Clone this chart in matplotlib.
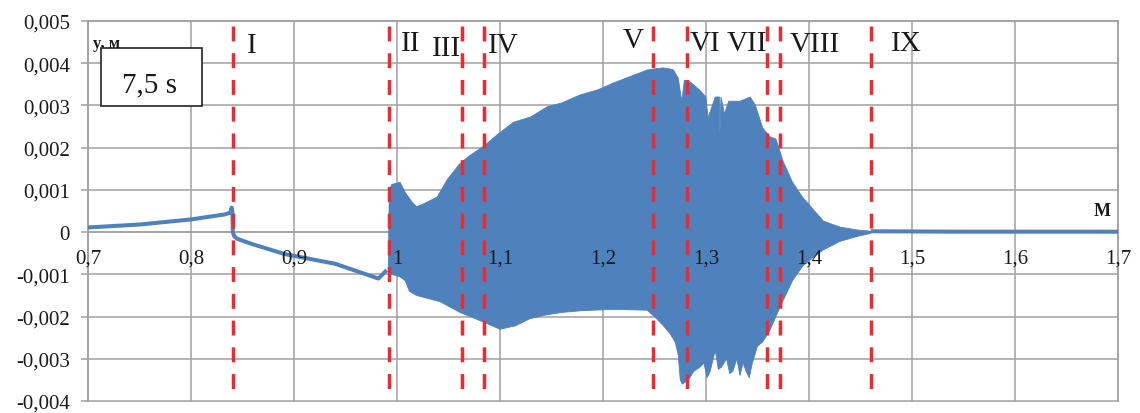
import matplotlib
matplotlib.use("Agg")
import matplotlib.pyplot as plt
from matplotlib.patches import Rectangle

plt.rcParams['font.family'] = ['Liberation Serif', 'DejaVu Serif']

# Quasi-static part of the displacement before the oscillations start
pre_x = [0.700, 0.750, 0.800, 0.833, 0.838, 0.8395, 0.8402, 0.8406, 0.842,
         0.845, 0.859, 0.891, 0.940, 0.982, 0.990]
pre_y = [0.00011, 0.00018, 0.00030, 0.00042, 0.00046, 0.00058, 0.00045, 0.00000,
         -0.00010, -0.00016, -0.00028, -0.00052, -0.00075, -0.00110, -0.00090]

# Oscillation envelope: upper bound
up_x = [0.9915, 0.9925, 0.995, 1.003, 1.008, 1.015, 1.019, 1.025, 1.039, 1.049,
        1.061, 1.070, 1.085, 1.097, 1.113, 1.130, 1.146, 1.160, 1.178, 1.195,
        1.210, 1.228, 1.243, 1.258, 1.268, 1.273, 1.2765, 1.279, 1.285, 1.294,
        1.300, 1.302, 1.304, 1.309, 1.313, 1.3135, 1.3145, 1.318, 1.322, 1.333,
        1.343, 1.348, 1.355, 1.362, 1.368, 1.375, 1.384, 1.394, 1.404, 1.414,
        1.430, 1.447, 1.460]
up_y = [-0.00090, 0.00100, 0.00113, 0.00118, 0.00094, 0.00070, 0.00060, 0.00066,
        0.00083, 0.00125, 0.00162, 0.00180, 0.00205, 0.00230, 0.00260, 0.00273,
        0.00297, 0.00306, 0.00325, 0.00337, 0.00353, 0.00370, 0.00384, 0.00389,
        0.00385, 0.00365, 0.00310, 0.00360, 0.00355, 0.00336, 0.00320, 0.00270,
        0.00285, 0.00320, 0.00320, 0.00230, 0.00320, 0.00280, 0.00310, 0.00310,
        0.00320, 0.00300, 0.00247, 0.00226, 0.00220, 0.00167, 0.00118, 0.00082,
        0.00054, 0.00026, 0.00012, 0.00005, 0.00002]

# Oscillation envelope: lower bound
lo_x = [0.9915, 0.995, 1.003, 1.008, 1.012, 1.019, 1.042, 1.061, 1.081, 1.100,
        1.115, 1.129, 1.145, 1.161, 1.180, 1.210, 1.243, 1.252, 1.258, 1.265,
        1.270, 1.273, 1.275, 1.277, 1.283, 1.288, 1.294, 1.298, 1.301, 1.304,
        1.309, 1.312, 1.315, 1.320, 1.323, 1.326, 1.330, 1.333, 1.336, 1.339,
        1.342, 1.345, 1.350, 1.355, 1.362, 1.372, 1.384, 1.394, 1.404, 1.414,
        1.430, 1.447, 1.460]
lo_y = [-0.00090, -0.00100, -0.00106, -0.00115, -0.00140, -0.00150, -0.00165,
        -0.00190, -0.00210, -0.00230, -0.00222, -0.00205, -0.00196, -0.00190,
        -0.00186, -0.00183, -0.00185, -0.00205, -0.00220, -0.00240, -0.00260,
        -0.00290, -0.00350, -0.00360, -0.00350, -0.00330, -0.00320, -0.00310,
        -0.00345, -0.00330, -0.00280, -0.00325, -0.00320, -0.00300, -0.00335,
        -0.00330, -0.00300, -0.00340, -0.00310, -0.00330, -0.00345, -0.00310,
        -0.00270, -0.00260, -0.00233, -0.00177, -0.00115, -0.00080, -0.00060,
        -0.00042, -0.00022, -0.00010, -0.00003]

# Settled part after the oscillations die out
post_x = [1.460, 1.550, 1.700]
post_y = [0.00002, 0.00001, 0.00001]

# Stage boundaries and their Roman labels
boundaries = [0.841, 0.992, 1.063, 1.0845, 1.2485, 1.2816, 1.359, 1.372, 1.460]
stage_labels = ['I', 'II', 'III', 'IV', 'V', 'VI', 'VII', 'VIII', 'IX']
label_pos = [(0.8592, 0.00442), (1.0136, 0.00447), (1.0485, 0.00435),
             (1.1029, 0.00442), (1.2291, 0.00454), (1.2990, 0.00447),
             (1.3398, 0.00447), (1.4058, 0.00445), (1.4942, 0.00449)]

x_ticks = [0.7, 0.8, 0.9, 1.0, 1.1, 1.2, 1.3, 1.4, 1.5, 1.6, 1.7]
x_tick_labels = ['0,7', '0,8', '0,9', '1', '1,1', '1,2', '1,3', '1,4', '1,5', '1,6', '1,7']
y_ticks = [-0.004, -0.003, -0.002, -0.001, 0.0, 0.001, 0.002, 0.003, 0.004, 0.005]
y_tick_labels = ['-0,004', '-0,003', '-0,002', '-0,001', '0',
                 '0,001', '0,002', '0,003', '0,004', '0,005']

BLUE = '#4F81BD'
GRID = '#A0A0A0'
RED = '#EE2A30'
TEXT = '#1a1a1a'

fig = plt.figure(figsize=(11.4, 4.14), dpi=100)
ax = fig.add_axes([88 / 1140, 12 / 414, 1030 / 1140, 380 / 414])
ax.set_xlim(0.7, 1.7)
ax.set_ylim(-0.004, 0.005)

# Grid behind the signal, tick labels in front of it
for xv in x_ticks:
    ax.axvline(xv, color=GRID, linewidth=1.1, zorder=0.5, clip_on=False)
for yv in y_ticks:
    ax.axhline(yv, color=GRID, linewidth=1.1, zorder=0.5, clip_on=False)
for side in ('left', 'right', 'top', 'bottom'):
    ax.spines[side].set_color(GRID)
    ax.spines[side].set_linewidth(1.1)
    ax.spines[side].set_zorder(0.6)
ax.spines['bottom'].set_position(('data', 0))
ax.xaxis.set_zorder(3.5)
ax.yaxis.set_zorder(3.5)

ax.set_xticks(x_ticks)
ax.set_xticklabels(x_tick_labels)
ax.set_yticks(y_ticks)
ax.set_yticklabels(y_tick_labels)
ax.tick_params(axis='x', length=0, pad=12, labelsize=15, labelcolor=TEXT)
ax.tick_params(axis='y', length=5, width=1.1, color=GRID, pad=8,
               labelsize=15, labelcolor=TEXT)

# Displacement signal
ax.plot(pre_x, pre_y, color=BLUE, linewidth=2.9, solid_capstyle='butt', zorder=2)
ax.fill(up_x + lo_x[::-1], up_y + lo_y[::-1], color=BLUE, linewidth=0.6,
        edgecolor=BLUE, zorder=2)
ax.plot(post_x, post_y, color=BLUE, linewidth=2.9, solid_capstyle='butt', zorder=2)

# Stage boundaries
for bx in boundaries:
    ax.plot([bx, bx], [0.00489, -0.00376], color=RED, linewidth=2.5,
            linestyle=(0, (4.3, 3.4)), solid_capstyle='butt', zorder=3)
for lab, (lx, ly) in zip(stage_labels, label_pos):
    ax.text(lx, ly, lab, fontsize=21, color=TEXT, ha='center', va='center', zorder=4)

# Axis captions
ax.text(0.7049, 0.00447, 'y, м', fontsize=12, fontweight='bold', color=TEXT,
        ha='left', va='center', zorder=4)
ax.text(1.6925, 0.00050, 'М', fontsize=13, fontweight='bold', color=TEXT,
        ha='right', va='center', zorder=4)

# Time stamp box
fig.patches.append(Rectangle((101 / 1140, (414 - 107) / 414), 101 / 1140, 58 / 414,
                             transform=fig.transFigure, facecolor='white',
                             edgecolor='#222222', linewidth=1.2, zorder=5))
fig.text(150 / 1140, (414 - 85) / 414, '7,5 s', fontsize=21, color=TEXT,
         ha='center', va='center', zorder=6)

fig.savefig('out.png', dpi=100)
